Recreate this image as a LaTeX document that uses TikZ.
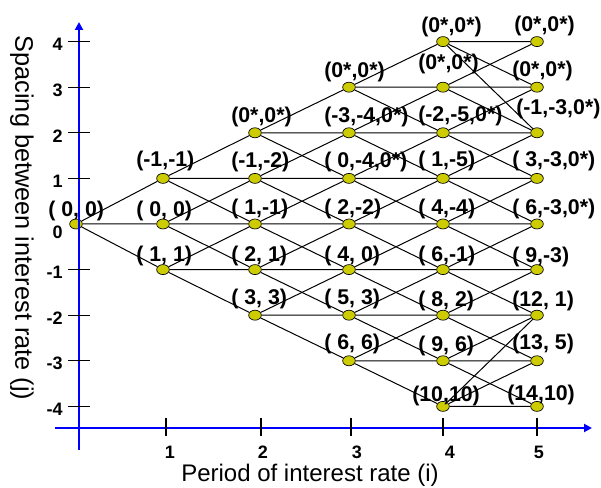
\documentclass[tikz,border=0pt]{standalone}
\usepackage{fontspec}
\setmainfont{Liberation Sans}
\usetikzlibrary{shapes.geometric, calc, arrows.meta, backgrounds}

\begin{document}
\begin{tikzpicture}[
    x=0.75pt, y=0.75pt,
    every node/.style={font=\fontsize{16}{18}\selectfont},
    pt/.style={
        ellipse,
        draw=black,
        fill=dotyellow,
        line width=0.5pt,
        minimum width=9.5pt,
        minimum height=7.5pt,
        inner sep=0pt
    },
    val/.style={anchor=base west, inner sep=0pt, font=\fontsize{16}{18}\selectfont\bfseries},
    link/.style={line width=0.75pt},
    axis/.style={draw=axisblue, line width=1.6pt, -{Triangle[length=6pt, width=6pt]}},
    tick/.style={line width=0.9pt},
    num/.style={font=\fontsize{13.5}{15}\selectfont\bfseries, inner sep=0pt}
]

\definecolor{axisblue}{RGB}{0, 0, 255}
\definecolor{dotyellow}{RGB}{204, 204, 0}

\useasboundingbox (0, 0) rectangle (601, 488);

% tree nodes: period / spacing / label shift / text
\foreach \i/\j/\dx/\dy/\txt in {
    0/0/-28/7/{( 0, 0)},
    1/1/-27/12/{(-1,-1)}, 1/0/-27/7/{( 0, 0)}, 1/-1/-27/8/{( 1, 1)},
    2/2/-24/10/{(0*,0*)}, 2/1/-24/11/{(-1,-2)}, 2/0/-24/9/{( 1,-1)},
    2/-1/-24/8/{( 2, 1)}, 2/-2/-24/11/{( 3, 3)},
    3/3/-25/10/{(0*,0*)}, 3/2/-25/10/{(-3,-4,0*)}, 3/1/-25/11/{( 0,-4,0*)},
    3/0/-25/9/{( 2,-2)}, 3/-1/-25/8/{( 4, 0)}, 3/-2/-25/11/{( 5, 3)}, 3/-3/-25/11/{( 6, 6)},
    4/4/-22/9/{(0*,0*)}, 4/3/-25/18/{(0*,0*)}, 4/2/-25/11/{(-2,-5,0*)},
    4/1/-25/12/{( 1,-5)}, 4/0/-25/9/{( 4,-4)}, 4/-1/-25/8/{( 6,-1)},
    4/-2/-25/9/{( 8, 2)}, 4/-3/-25/9/{( 9, 6)}, 4/-4/-31/5/{(10,10)},
    5/4/-23/10/{(0*,0*)}, 5/3/-25/11/{(0*,0*)}, 5/2/-21/18/{(-1,-3,0*)},
    5/1/-25/12/{( 3,-3,0*)}, 5/0/-25/9/{( 6,-3,0*)}, 5/-1/-25/7/{( 9,-3)},
    5/-2/-25/9/{(12, 1)}, 5/-3/-25/11/{(13, 5)}, 5/-4/-30/6/{(14,10)}
}{
    \pgfmathsetmacro\xx{{76,163,255,349,443,537}[\i]}
    \node[pt] (n\i\j) at (\xx, {264+45.6*(\j)}) {};
    \node[val] (t\i\j) at ($(n\i\j)+(\dx,\dy)$) {\txt};
}

% branches
\begin{scope}[on background layer]
\foreach \i/\lo/\hi in {0/0/0, 1/-1/1, 2/-2/2, 3/-3/3, 4/-3/3} {
    \pgfmathtruncatemacro\nx{\i+1}
    \foreach \j in {\lo,...,\hi} {
        \pgfmathtruncatemacro\up{\j+1}
        \pgfmathtruncatemacro\dn{\j-1}
        \draw[link] (n\i\j) -- (n\nx\up) (n\i\j) -- (n\nx\j) (n\i\j) -- (n\nx\dn);
    }
}
\draw[link] (n44) -- (n54) (n44) -- (n53) (n44) -- (n52);
\draw[link] (n4-4) -- (n5-4) (n4-4) -- (n5-3) (n4-4) -- (n5-2);
\end{scope}

% axes
\draw[axis] (79, 38) -- (79, 466);
\draw[axis] (55, 60) -- (592, 60);

\foreach \j in {-4,-3,-2,-1,1,2,3,4} {
    \draw[tick] (68, {264+45.6*\j}) -- (90, {264+45.6*\j});
    \node[num, anchor=east] (y\j) at (63, {261+45.6*\j}) {\j};
}
\node[num, anchor=east] (y0) at (63, 256) {0};

\foreach \x/\lx/\n in {166/170/1, 261/263/2, 351/357/3, 443/450/4, 537/539/5} {
    \draw[tick] (\x, 52) -- (\x, 70);
    \node[num] (x\n) at (\lx, 36) {\n};
}

\node[font=\fontsize{18}{20}\selectfont] (xtitle) at (310, 13) {Period of interest rate (i)};
\node[font=\fontsize{19}{21}\selectfont, rotate=-90] (ytitle) at (22, 270) {Spacing between interest rate (j)};

\end{tikzpicture}
\end{document}
